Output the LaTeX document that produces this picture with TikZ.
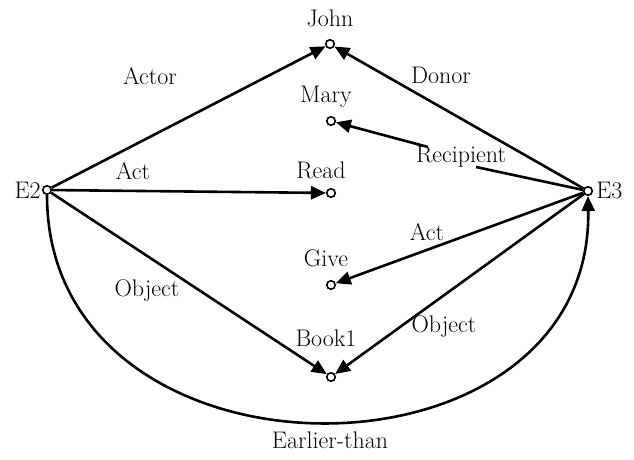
\documentclass[tikz,border=0pt]{standalone}
\usetikzlibrary{arrows.meta}
\begin{document}
\begin{tikzpicture}[x=1pt,y=-1pt,
  dot/.style={circle,draw,line width=1.6pt,inner sep=0pt,minimum size=8.5pt},
  lbl/.style={font=\fontsize{24}{28}\selectfont,inner sep=1pt},
  edge/.style={line width=2.6pt,-{Triangle[length=15pt,width=13pt]}},
  plain/.style={line width=2.6pt}]
\useasboundingbox (0,0) rectangle (634,460);
% points
\node[dot] (e2) at (47,190) {};
\node[dot] (e3) at (588,191) {};
\node[dot] (john) at (330,44) {};
\node[dot] (mary) at (331,121) {};
\node[dot] (read) at (331,193) {};
\node[dot] (give) at (331,285) {};
\node[dot] (book) at (331,377) {};
% point names
\node[lbl,anchor=east] (e2t) at (e2.west) {E2};
\node[lbl,anchor=west] (e3t) at ([xshift=2pt]e3.east) {E3};
\node[lbl] (johnt) at (330,18) {John};
\node[lbl] (maryt) at (326,97) {Mary};
\node[lbl] (readt) at (321,170) {Read};
\node[lbl] (givet) at (326,258) {Give};
\node[lbl] (bookt) at (326,338) {Book1};
% connectors
\coordinate (r1) at (476,167);
\coordinate (r2) at (428,147);
\draw[edge] (e2) -- (john);
\draw[edge] (e3) -- (john);
\draw[plain] (e3) -- (r1);
\draw[edge] (r2) -- (mary);
\draw[edge] (e2) -- (read);
\draw[edge] (e3) -- (give);
\draw[edge] (e2) -- (book);
\draw[edge] (e3) -- (book);
\draw[edge] (e2.south) .. controls (47,497) and (593,497) .. (e3.south);
% connector labels
\node[lbl] (l1) at (150,76) {Actor};
\node[lbl] (l2) at (441,75) {Donor};
\node[lbl] (l3) at (461,157) {Recipient};
\node[lbl] (l4) at (133,171) {Act};
\node[lbl] (l5) at (427,232) {Act};
\node[lbl] (l6) at (147,291) {Object};
\node[lbl] (l7) at (444,327) {Object};
\node[lbl] (l8) at (330,440) {Earlier-than};
\end{tikzpicture}
\end{document}
